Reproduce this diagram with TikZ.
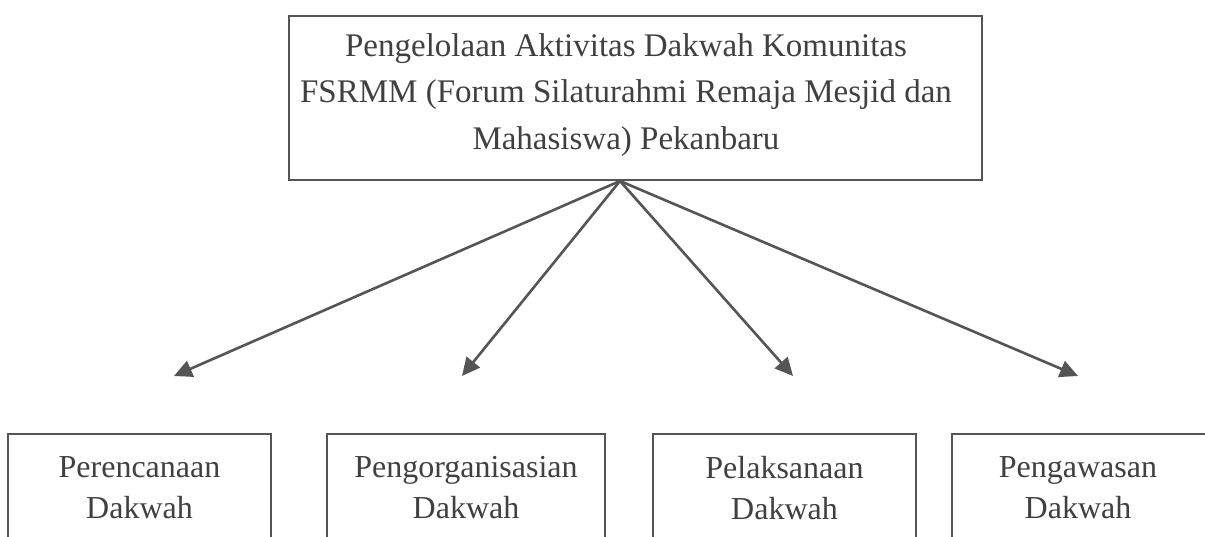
\documentclass[tikz,border=0pt]{standalone}
\usepackage{fontspec}
\setmainfont{Liberation Serif}
\usetikzlibrary{arrows.meta}
\definecolor{txt}{HTML}{404040}
\definecolor{ln}{HTML}{555555}
\begin{document}
\begin{tikzpicture}[x=1pt,y=-1pt,
  box/.style={draw=ln, line width=2pt, text=txt, align=center, inner sep=0pt},
  toptext/.style={text=txt, align=center, inner sep=0pt, font=\fontsize{33}{46.5}\selectfont},
  subtext/.style={text=txt, align=center, inner sep=0pt, font=\fontsize{32}{41}\selectfont},
  conn/.style={draw=ln, line width=2.6pt, -{Triangle[length=18pt,width=17pt]}}]
\useasboundingbox (0,0) rectangle (1205,537);
\fill[white] (0,0) rectangle (1205,537);
\clip (0,0) rectangle (1205,537);
% top box
\node[box, minimum width=693pt, minimum height=164pt] (top) at (635.5,98) {};
\node[toptext] (toplabel) at (626,95) {Pengelolaan Aktivitas Dakwah Komunitas\\FSRMM (Forum Silaturahmi Remaja Mesjid dan\\Mahasiswa) Pekanbaru};
% bottom boxes
\node[box, minimum width=263pt, minimum height=140pt] (b1) at (139.5,504) {};
\node[box, minimum width=278pt, minimum height=140pt] (b2) at (466,504) {};
\node[box, minimum width=263pt, minimum height=140pt] (b3) at (784.5,504) {};
\node[box, minimum width=280pt, minimum height=140pt] (b4) at (1092,504) {};
\node[subtext] (l1) at (139.5,488) {Perencanaan\\Dakwah};
\node[subtext] (l2) at (466,488) {Pengorganisasian\\Dakwah};
\node[subtext] (l3) at (784.5,488) {Pelaksanaan\\Dakwah};
\node[subtext] (l4) at (1078,488) {Pengawasan\\Dakwah};
% connectors
\coordinate (apex) at (top.south -| 620,0);
\coordinate (t1) at (174,376);
\coordinate (t2) at (462,376);
\coordinate (t3) at (793,376);
\coordinate (t4) at (1078,376);
\draw[conn] (apex) -- (t1);
\draw[conn] (apex) -- (t2);
\draw[conn] (apex) -- (t3);
\draw[conn] (apex) -- (t4);
\end{tikzpicture}
\end{document}
